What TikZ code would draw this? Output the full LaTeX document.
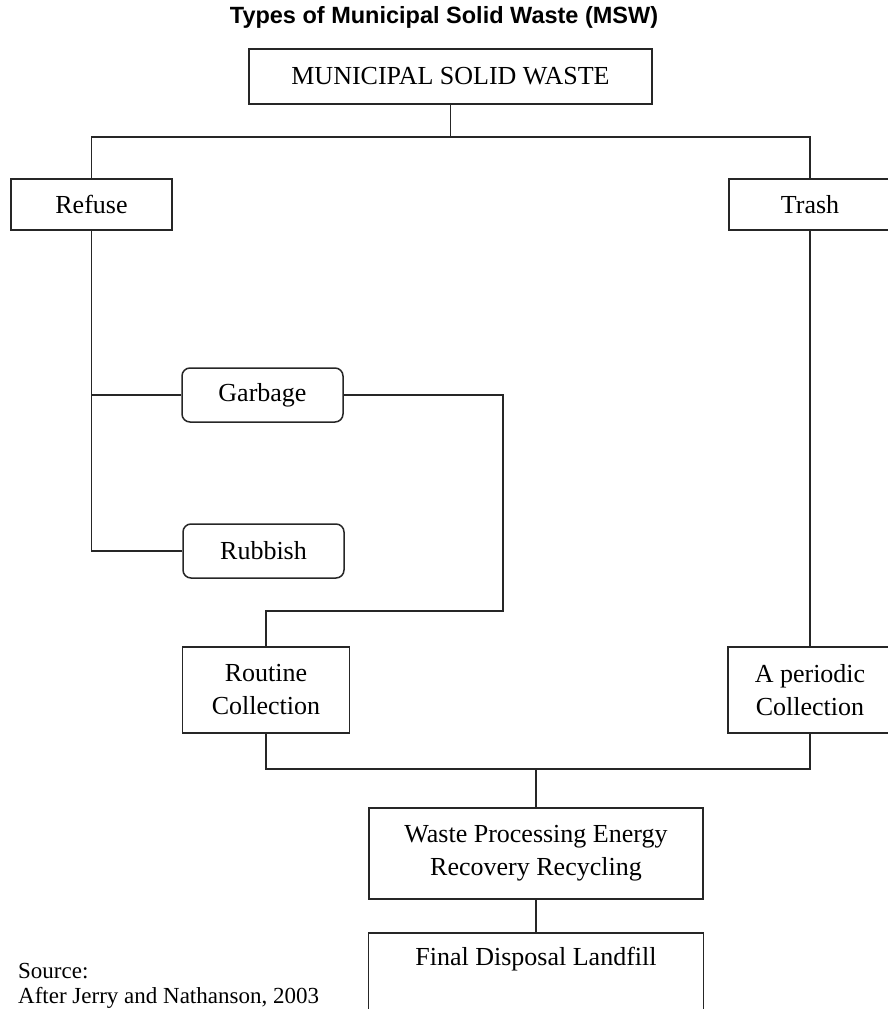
\documentclass[tikz,border=0pt]{standalone}
\usepackage{fontspec}
\setmainfont{Liberation Serif}
\newfontfamily\titlefont{Liberation Sans}
\begin{document}
\begin{tikzpicture}[x=1pt,y=-1pt,
  box/.style={draw=black!85, line width=1.5pt, rectangle, inner sep=0pt, align=center,
    font=\fontsize{26}{33}\selectfont},
  rbox/.style={box, rounded corners=8pt},
  wire/.style={draw=black!85, line width=1.5pt}]
\useasboundingbox (0,0) rectangle (888,1009);
\clip (0,0) rectangle (888,1009);
\node[font=\titlefont\bfseries\fontsize{23.5}{27}\selectfont] (title) at (444,17) {Types of Municipal Solid Waste (MSW)};
\node[box, minimum width=403pt, minimum height=55pt] (msw) at (450.5,76.5) {MUNICIPAL SOLID WASTE};
\node[box, minimum width=161pt, minimum height=51pt] (refuse) at (91.5,204.5) {Refuse};
\node[box, minimum width=162pt, minimum height=51pt] (trash) at (810,204.5) {Trash};
\node[rbox, minimum width=161pt, minimum height=54pt] (garbage) at (262.5,395) {Garbage};
\node[rbox, minimum width=161pt, minimum height=54pt] (rubbish) at (263.5,551) {Rubbish};
\node[box, minimum width=167pt, minimum height=86pt] (routine) at (266,690) {Routine\\Collection};
\node[box, minimum width=164pt, minimum height=86pt] (aperiodic) at (810,690) {A periodic\\Collection};
\node[box, minimum width=334pt, minimum height=91pt] (waste) at (536,853.5) {Waste Processing Energy\\Recovery Recycling};
\node[box, anchor=north, minimum width=335pt, text height=19pt, text depth=70pt, inner ysep=14pt] (final) at (536,932)
  {Final Disposal Landfill};
\node[anchor=north west, inner sep=0pt, align=left, font=\fontsize{23}{25}\selectfont] (source) at (18,963)
  {Source:\\After Jerry and Nathanson, 2003};
\coordinate (j1) at (msw.south |- 0,137);
\coordinate (g1) at (503,611);
\coordinate (j2) at (waste.north |- 0,769);
\draw[wire] (msw.south) -- (j1);
\draw[wire] (refuse.north) |- (j1) -| (trash.north);
\draw[wire] (refuse.south) |- (rubbish.west);
\draw[wire] (garbage.west) -- (garbage.west -| refuse.south);
\draw[wire] (garbage.east) -| (g1) -| (routine.north);
\draw[wire] (trash.south) -- (aperiodic.north);
\draw[wire] (routine.south) |- (j2) -| (aperiodic.south);
\draw[wire] (j2) -- (waste.north);
\draw[wire] (waste.south) -- (final.north);
\end{tikzpicture}
\end{document}
